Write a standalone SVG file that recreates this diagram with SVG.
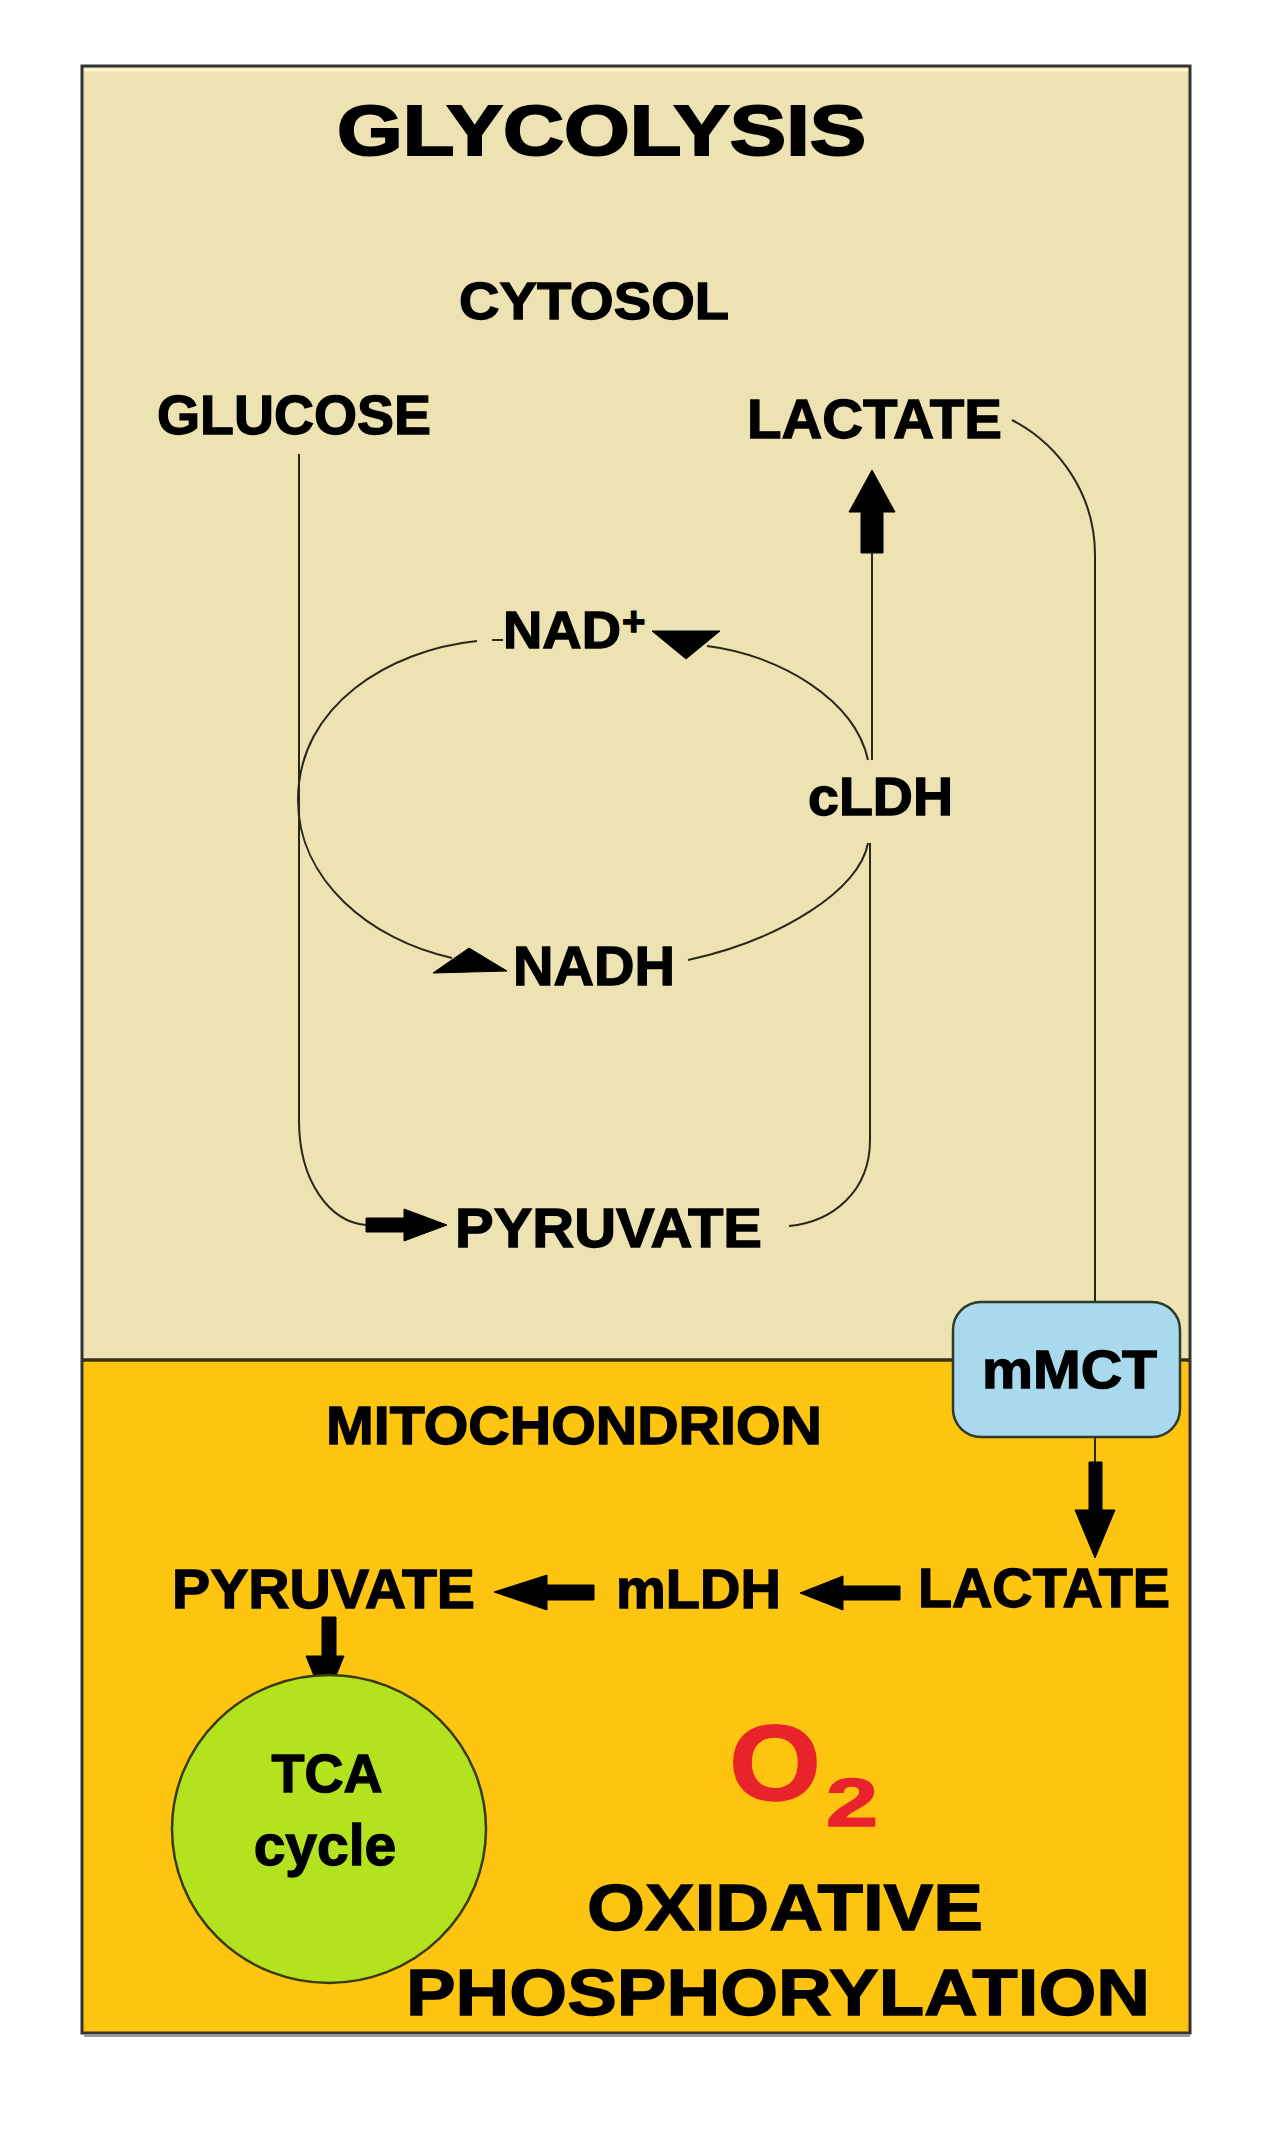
<svg xmlns="http://www.w3.org/2000/svg" width="1280" height="2140" viewBox="0 0 1280 2140">
<style>
.lbl{font-family:"Liberation Sans",Arial,Helvetica,sans-serif;font-weight:bold;fill:#000;stroke:#000;stroke-width:1.3px}
.conn{fill:none;stroke:#2a2718;stroke-width:2}
.blk{fill:#000;stroke:#000;stroke-width:1}
.red{font-family:"Liberation Sans",Arial,Helvetica,sans-serif;font-weight:bold;fill:#E8232B;stroke:#E8232B;stroke-width:1.5px}
</style>
<rect width="1280" height="2140" fill="#ffffff"/>
<g id="cytosol-region">
<rect x="82" y="66" width="1108" height="1294" fill="#EDE3B2"/>
<line x1="84" y1="70" x2="1188" y2="70" stroke="#FFF8CF" stroke-width="3"/>
</g>
<g id="mitochondrion-region">
<rect x="82" y="1360" width="1108" height="673" fill="#FDC410"/>
</g>
<rect x="82" y="66" width="1108" height="1967" fill="none" stroke="#333" stroke-width="3"/>
<line x1="84" y1="2036" x2="1190" y2="2036" stroke="#9a9a9a" stroke-width="2"/>
<line x1="82" y1="1360" x2="1190" y2="1360" stroke="#3a3218" stroke-width="3.5"/>

<g id="connectors">
<path class="conn" d="M299,454 V1120 C299,1182 330,1222 366,1225"/>
<path class="conn" d="M870,843 V1140 C870,1192 832,1222 789,1226"/>
<path class="conn" d="M872,760 V548"/>
<path class="conn" d="M1012,420 C1060,445 1095,495 1095,555 V1302"/>
<path class="conn" d="M1095,1437 V1464"/>
<path class="conn" d="M477,641 C390,650 298,705 298,800 C298,880 370,940 452,958"/>
<path class="conn" d="M688,960 C780,940 860,890 868,843"/>
<path class="conn" d="M868,760 C855,700 780,655 707,646"/>
<path class="conn" d="M492,640 H503"/>
<!-- arrowheads -->
<polygon class="blk" points="652,631 720,631 686,659"/>
<polygon class="blk" points="433,973 507,971 469,948"/>
<polygon class="blk" points="366,1218 404,1218 404,1209 447,1225 404,1241 404,1232 366,1232"/>
<polygon class="blk" points="861,553 861,512 849,512 872,470 895,512 883,512 883,553"/>
<polygon class="blk" points="1089,1462 1102,1462 1102,1510 1115,1510 1095,1558 1075,1510 1089,1510"/>
<polygon class="blk" points="594,1585 547,1585 547,1575 494,1592 547,1610 547,1600 594,1600"/>
<polygon class="blk" points="900,1586 843,1586 843,1576 800,1593 843,1610 843,1600 900,1600"/>
<polygon class="blk" points="322,1617 336,1617 336,1656 344,1656 325,1703 306,1656 322,1656"/>
</g>

<g id="title-glycolysis"><text class="lbl" x="337" y="155" font-size="70" textLength="529" lengthAdjust="spacingAndGlyphs" style="stroke-width:2px">GLYCOLYSIS</text></g>
<g id="label-cytosol"><text class="lbl" x="459" y="319" font-size="52" textLength="270" lengthAdjust="spacingAndGlyphs">CYTOSOL</text></g>
<g id="node-glucose"><text class="lbl" x="157" y="434" font-size="55" textLength="274" lengthAdjust="spacingAndGlyphs">GLUCOSE</text></g>
<g id="node-lactate-cyto"><text class="lbl" x="747" y="438" font-size="55" textLength="255" lengthAdjust="spacingAndGlyphs">LACTATE</text></g>
<g id="node-nad"><text class="lbl" x="503" y="648" font-size="52" textLength="118" lengthAdjust="spacingAndGlyphs">NAD</text><text class="lbl" x="622" y="635" font-size="40">+</text></g>
<g id="node-cldh"><text class="lbl" x="808" y="815" font-size="54" textLength="145" lengthAdjust="spacingAndGlyphs">cLDH</text></g>
<g id="node-nadh"><text class="lbl" x="513" y="985" font-size="55" textLength="162" lengthAdjust="spacingAndGlyphs">NADH</text></g>
<g id="node-pyruvate-cyto"><text class="lbl" x="455" y="1247" font-size="56" textLength="307" lengthAdjust="spacingAndGlyphs">PYRUVATE</text></g>

<g id="node-mmct">
<rect x="953" y="1302" width="227" height="135" rx="28" ry="28" fill="#A8D9EC" stroke="#2f3a2a" stroke-width="2.5"/>
<text class="lbl" x="982" y="1388" font-size="54" textLength="175" lengthAdjust="spacingAndGlyphs">mMCT</text>
</g>
<g id="label-mitochondrion"><text class="lbl" x="326" y="1444" font-size="53" textLength="496" lengthAdjust="spacingAndGlyphs">MITOCHONDRION</text></g>
<g id="node-pyruvate-mito"><text class="lbl" x="172" y="1608" font-size="55" textLength="303" lengthAdjust="spacingAndGlyphs">PYRUVATE</text></g>
<g id="node-mldh"><text class="lbl" x="616" y="1608" font-size="55" textLength="165" lengthAdjust="spacingAndGlyphs">mLDH</text></g>
<g id="node-lactate-mito"><text class="lbl" x="918" y="1607" font-size="55" textLength="252" lengthAdjust="spacingAndGlyphs">LACTATE</text></g>

<g id="node-tca">
<ellipse cx="329" cy="1829" rx="157" ry="154" fill="#B3E21F" stroke="#3a3a10" stroke-width="2.5"/>
<text class="lbl" x="327" y="1792" font-size="54" text-anchor="middle">TCA</text>
<text class="lbl" x="325" y="1865" font-size="57" text-anchor="middle">cycle</text>
</g>
<g id="label-o2">
<text class="red" x="729" y="1800" font-size="108" textLength="92" lengthAdjust="spacingAndGlyphs">O</text>
<text class="red" x="826" y="1826" font-size="68" textLength="52" lengthAdjust="spacingAndGlyphs">2</text>
</g>
<g id="label-oxphos">
<text class="lbl" x="587" y="1930" font-size="65" textLength="396" lengthAdjust="spacingAndGlyphs">OXIDATIVE</text>
<text class="lbl" x="406" y="2015" font-size="65" textLength="744" lengthAdjust="spacingAndGlyphs">PHOSPHORYLATION</text>
</g>
</svg>
